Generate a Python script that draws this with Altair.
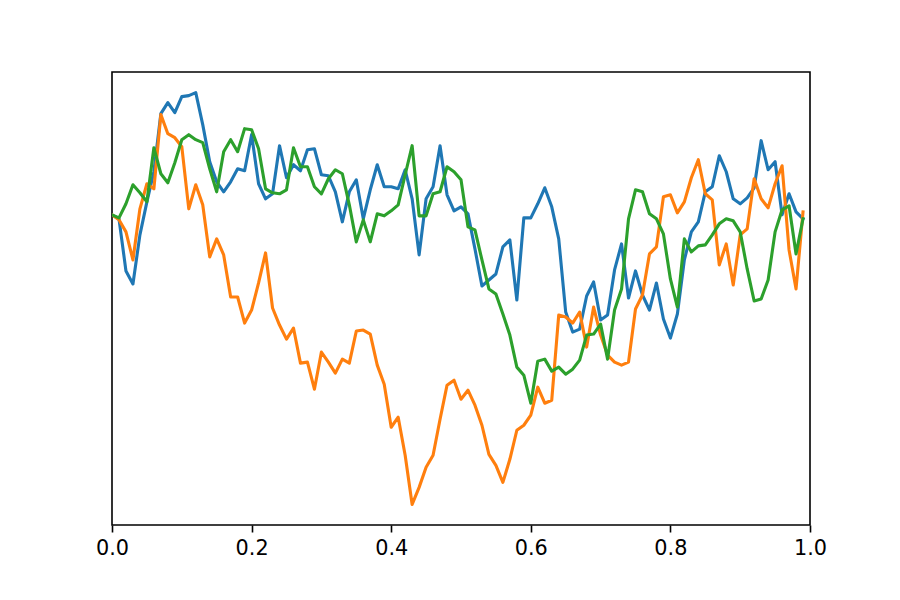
import altair as alt
import pandas as pd

x = [i / 100 for i in range(100)]

blue = [0.0, -0.4, -5.6, -6.9, -2.0, 1.3, 4.3, 10.1, 11.2, 10.2,
        11.8, 11.9, 12.2, 9.0, 5.3, 3.3, 2.3, 3.3, 4.6, 4.4,
        8.0, 3.1, 1.6, 2.1, 6.9, 3.7, 5.0, 4.4, 6.5, 6.6,
        4.0, 3.9, 2.3, -0.7, 2.3, 3.5, -0.4, 2.5, 5.0, 2.8,
        2.8, 2.6, 4.5, 1.6, -4.0, 1.6, 2.8, 6.9, 2.0, 0.4,
        0.8, 0.1, -3.4, -7.1, -6.5, -5.9, -3.2, -2.5, -8.5, -0.3,
        -0.3, 1.1, 2.7, 0.8, -2.4, -9.7, -11.7, -11.4, -8.1, -6.7,
        -10.5, -10.0, -5.5, -2.9, -8.3, -5.6, -8.0, -9.5, -6.8, -10.4,
        -12.3, -9.9, -4.5, -1.7, -0.7, 2.3, 2.8, 5.9, 4.3, 1.6,
        1.1, 1.7, 2.7, 7.4, 4.5, 5.3, 0.0, 2.1, 0.3, -0.4]

orange = [0.0, -0.5, -1.7, -4.5, 0.6, 3.1, 2.6, 10.0, 8.1, 7.7,
          6.8, 0.6, 3.0, 1.0, -4.2, -2.4, -4.0, -8.2, -8.2, -10.8,
          -9.5, -6.8, -3.8, -9.3, -11.0, -12.4, -11.3, -14.8, -14.7, -17.4,
          -13.7, -14.7, -15.8, -14.4, -14.8, -11.6, -11.5, -11.9, -15.0, -16.9,
          -21.2, -20.2, -24.0, -28.9, -27.2, -25.2, -24.0, -20.4, -17.0, -16.5,
          -18.4, -17.5, -19.0, -21.0, -23.9, -25.0, -26.7, -24.4, -21.5, -21.0,
          -20.0, -17.2, -18.8, -18.5, -10.0, -10.2, -10.8, -9.7, -13.2, -9.2,
          -12.0, -14.0, -14.7, -15.0, -14.7, -9.4, -8.0, -3.9, -3.2, 1.8,
          2.0, 0.2, 1.3, 3.7, 5.5, 2.1, 1.5, -5.0, -2.9, -7.0,
          -2.0, -1.4, 3.6, 1.6, 0.7, 3.1, 4.9, -3.5, -7.4, 0.3]

green = [0.0, -0.3, 1.1, 3.0, 2.2, 1.3, 6.7, 4.1, 3.2, 5.2,
         7.5, 8.0, 7.5, 7.2, 4.6, 2.3, 6.3, 7.5, 6.3, 8.6,
         8.5, 6.6, 2.6, 2.2, 2.1, 2.5, 6.7, 4.8, 4.8, 2.8,
         2.1, 3.6, 4.5, 4.1, 1.0, -2.7, -0.5, -2.7, 0.1, -0.1,
         0.4, 1.0, 4.0, 6.9, -0.1, -0.1, 2.1, 2.3, 4.8, 4.3,
         3.5, -1.2, -1.5, -4.5, -7.4, -7.9, -9.9, -12.0, -15.2, -16.0,
         -18.8, -14.6, -14.4, -15.6, -15.2, -15.9, -15.4, -14.5, -12.0, -11.9,
         -10.9, -14.4, -9.5, -7.4, -0.4, 2.5, 2.3, 0.1, -0.4, -1.9,
         -6.4, -9.2, -2.4, -3.7, -3.1, -3.0, -2.0, -0.9, -0.4, -0.6,
         -1.7, -5.4, -8.6, -8.4, -6.5, -1.7, 0.5, 0.9, -3.9, -0.4]

series = [("blue", blue, "#1f77b4"),
          ("orange", orange, "#ff7f0e"),
          ("green", green, "#2ca02c")]

x_ticks = [0.0, 0.2, 0.4, 0.6, 0.8, 1.0]

allv = blue + orange + green
lo, hi = min(allv), max(allv)
pad = 0.05 * (hi - lo)
ydom = [lo - pad, hi + pad]

x_enc = alt.X(
    "x:Q",
    scale=alt.Scale(domain=[0, 1], nice=False, zero=False),
    axis=alt.Axis(
        values=x_ticks, format=".1f", title=None, grid=False, domain=False,
        tickColor="black", tickSize=7, tickWidth=1.6,
        labelFont="DejaVu Sans", labelFontSize=20.8, labelColor="black",
        labelPadding=6, labelFlush=False, labelOverlap=False,
    ),
)
y_enc = alt.Y("y:Q", scale=alt.Scale(domain=ydom, nice=False, zero=False), axis=None)

layers = []
for name, vals, col in series:
    df = pd.DataFrame({"x": x, "y": vals})
    layers.append(
        alt.Chart(df).mark_line(color=col, strokeWidth=3.1, strokeJoin="round",
                                strokeCap="square", clip=True)
        .encode(x=x_enc, y=y_enc)
    )

chart = (
    alt.layer(*layers)
    .properties(
        width=698, height=453,
        padding={"left": 112, "top": 72, "right": 90, "bottom": 75},
        autosize=alt.AutoSizeParams(type="none"),
        background="white",
    )
    .configure_view(stroke="black", strokeWidth=1.6)
)

chart.save("out.html", embed_options={"renderer": "svg", "actions": False})
